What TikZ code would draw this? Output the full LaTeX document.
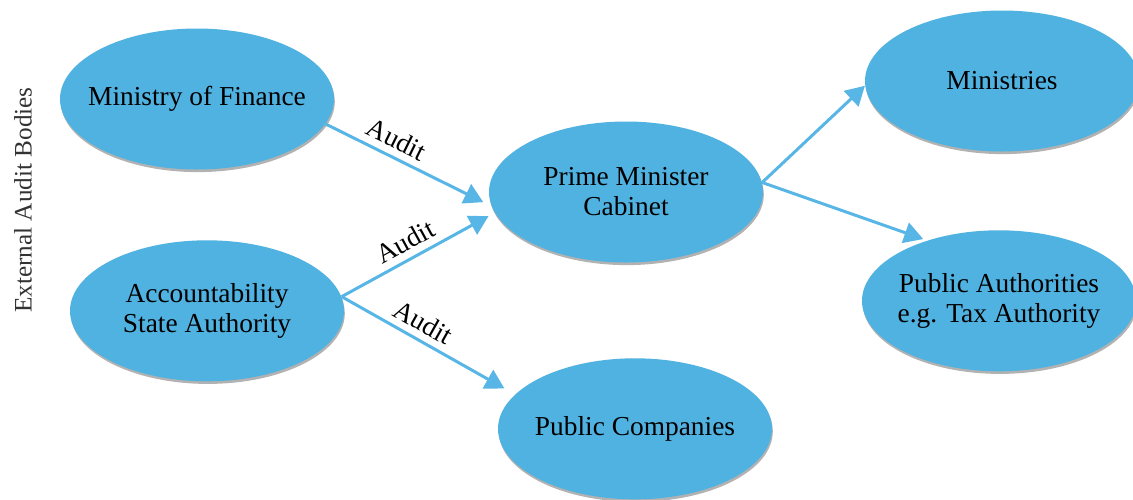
\documentclass[tikz,border=0pt]{standalone}
\usepackage{fontspec}
\setmainfont{Liberation Serif}
\usepackage{xcolor}
\usepackage{tikz}
\usetikzlibrary{positioning, shapes.geometric, arrows.meta, shadows}
\definecolor{bodyFill}{RGB}{80,178,225}
\definecolor{ptrColor}{RGB}{88,182,230}
\tikzset{
    bodynode/.style={
        ellipse,
        fill=bodyFill,
        minimum width=137pt,
        minimum height=70.5pt,
        inner xsep=-8pt,
        inner ysep=0pt,
        align=center,
        font=\fontsize{13.7}{15}\selectfont,
        drop shadow={shadow xshift=0.4pt, shadow yshift=-1.3pt, fill=black, opacity=0.3}
    },
    ptr/.style={
        -{Triangle[length=9.5pt, width=10.5pt]},
        line width=1.5pt,
        draw=ptrColor,
        fill=ptrColor
    },
    auditlabel/.style={
        above,
        sloped,
        font=\fontsize{13.7}{15}\selectfont
    }
}

\begin{document}
\begin{tikzpicture}[x=0.5pt, y=-0.5pt]
    \useasboundingbox (0,0) rectangle (1133,499);

    \node[rotate=90, text=black!80, font=\fontsize{12.6}{14}\selectfont] (ext) at (23,200) {External Audit Bodies};

    \node[bodynode] (MoF) at (197,99) {Ministry of Finance};
    \node[bodynode, below=35pt of MoF, xshift=5pt] (ASA) {Accountability\\State Authority};
    \node[bodynode] (PMC) at (626,192) {Prime Minister\\Cabinet};
    \node[bodynode, below=47.5pt of PMC, xshift=4.5pt] (PC) {Public Companies};
    \node[bodynode] (Min) at (1002,81) {Ministries};
    \node[bodynode, below=39pt of Min, xshift=-1.5pt] (PA) {Public Authorities\\e.g. Tax Authority};

    % external bodies audit
    \draw[ptr, shorten >=4.5pt] (MoF.-11) -- (PMC.186) node[auditlabel, pos=0.38] {Audit};
    \draw[ptr, shorten >=3.5pt] (ASA.6) -- (PMC.189) node[auditlabel, pos=0.47] {Audit};
    \draw[ptr, shorten >=6pt] (ASA.6) -- (PC.164) node[auditlabel, pos=0.42] {Audit};

    \draw[ptr] (PMC.4) -- (Min.182);
    \draw[ptr, shorten >=2pt] (PMC.4) -- (PA.140);
\end{tikzpicture}
\end{document}
